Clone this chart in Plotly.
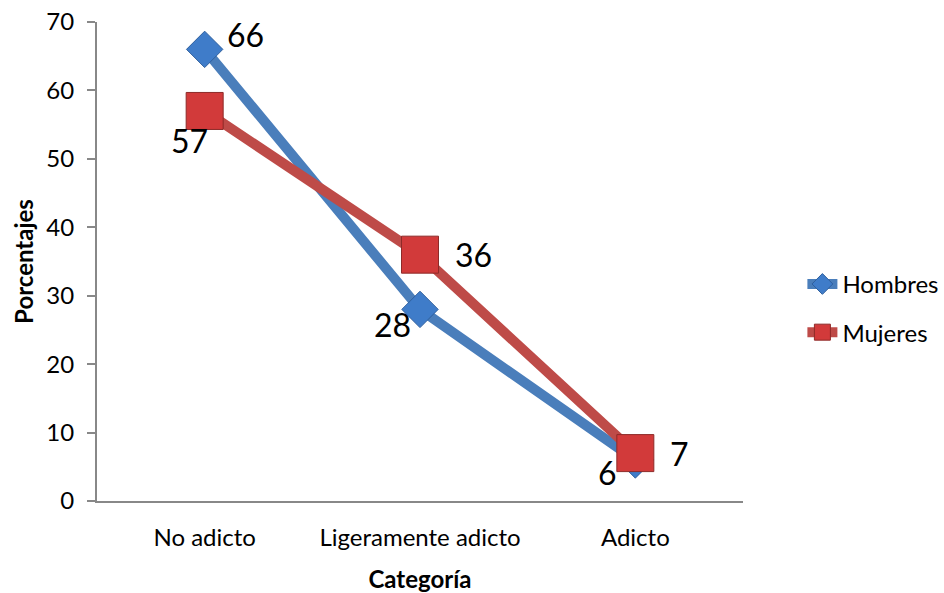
import plotly.graph_objects as go

categorias = ["No adicto", "Ligeramente adicto", "Adicto"]
hombres = [66, 28, 6]
mujeres = [57, 36, 7]
y_ticks = [0, 10, 20, 30, 40, 50, 60, 70]

# label offsets (pixels) relative to each point
hombres_shift = [(41, 15), (-28, -15), (-28, -13)]
mujeres_shift = [(-15, -30), (53, 0), (44, 0)]

FONT = "Lato, Open Sans, sans-serif"
xs = list(range(len(categorias)))

fig = go.Figure()
fig.add_trace(go.Scatter(
    x=xs, y=hombres, name="Hombres", mode="lines+markers", legendgroup="h",
    line=dict(color="#4A7EBB", width=10),
    marker=dict(symbol="diamond", size=28, color="#3F7CC9", line=dict(color="#2E5F9E", width=1)),
))
fig.add_trace(go.Scatter(
    x=xs, y=mujeres, name="Mujeres", mode="lines+markers", legendgroup="m",
    line=dict(color="#BE4B48", width=10),
    marker=dict(symbol="square", size=37, color="#D23A3A", line=dict(color="#8E2A28", width=1)),
))

for vals, shifts in ((hombres, hombres_shift), (mujeres, mujeres_shift)):
    for x, v, (dx, dy) in zip(xs, vals, shifts):
        fig.add_annotation(x=x, y=v, xref="x", yref="y", text=str(v), showarrow=False,
                           xshift=dx, yshift=dy, font=dict(size=32, color="black", family=FONT))

fig.update_layout(
    width=944, height=593,
    margin=dict(l=97, r=201, t=22, b=92, autoexpand=False),
    plot_bgcolor="white", paper_bgcolor="white",
    font=dict(family=FONT, size=24, color="black"),
    showlegend=True,
    legend=dict(xref="container", yref="container", x=0.85, y=0.48,
                xanchor="left", yanchor="middle",
                font=dict(size=24, family=FONT), tracegroupgap=14),
    xaxis=dict(
        range=[-0.5, 2.5], tickmode="array", tickvals=xs, ticktext=categorias,
        showline=True, linecolor="#888888", linewidth=2, showgrid=False, zeroline=False,
        ticks="", tickfont=dict(size=24), automargin=False, ticklabelstandoff=14,
        title=dict(text="<b>Categoría</b>", font=dict(size=24), standoff=22),
    ),
    yaxis=dict(
        range=[0, 70], tickvals=y_ticks, showline=True, linecolor="#888888", linewidth=2,
        showgrid=False, zeroline=False, ticks="outside", ticklen=8, tickcolor="#888888",
        tickwidth=2, tickfont=dict(size=24), automargin=False, ticklabelstandoff=8,
        title=dict(text="<b>Porcentajes</b>", font=dict(size=24), standoff=6),
    ),
)
fig.write_html("out.html")
